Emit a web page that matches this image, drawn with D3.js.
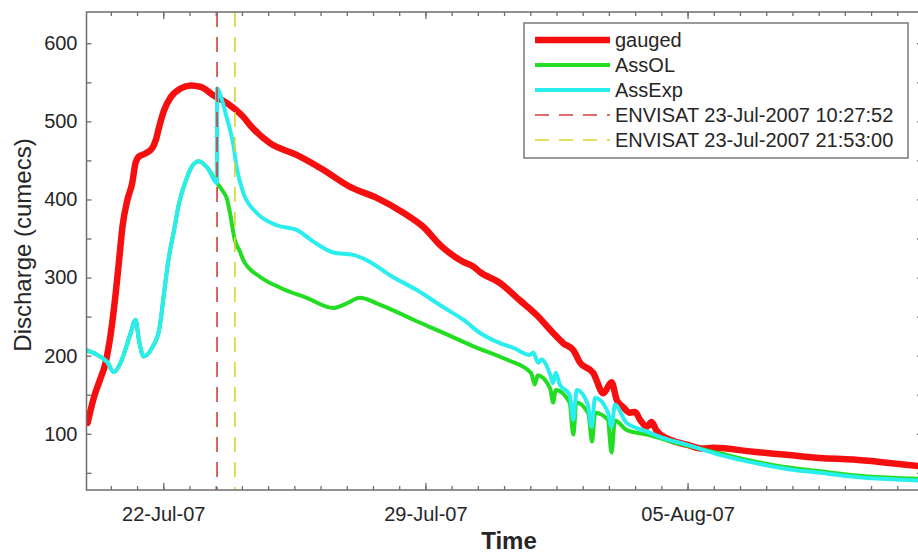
<!DOCTYPE html>
<html>
<head>
<meta charset="utf-8">
<script src="https://cdn.jsdelivr.net/npm/d3@7"></script>
<style>
body { margin: 0; background: #fff; }
text { font-family: "Liberation Sans", Arial, sans-serif; fill: #262626; }
</style>
</head>
<body>
<script>
// discharge data. days counted from 22-Jul-2007 00:00 UTC

var gaugedDays = [-2.02, -1.85, -1.69, -1.54, -1.40, -1.27, -1.18, -1.09, -0.96, -0.83, -0.74, -0.65, -0.47, -0.29, -0.20, -0.11,
  0.02, 0.20, 0.46, 0.73, 1.00, 1.35, 1.71, 2.15, 2.32, 2.85, 3.56, 4.27, 4.99, 5.70, 6.41, 6.94, 7.43, 7.66, 8.01, 8.28,
  8.46, 8.99, 9.52, 9.97, 10.41, 10.68, 10.95, 11.13, 11.48, 11.75, 11.97, 12.11, 12.28, 12.46, 12.60, 12.73, 12.91, 13.04,
  13.17, 13.50, 13.98, 14.40, 14.69, 15.75, 16.65, 17.54, 18.42, 19.32, 20.30];
var gaugedQ = [114, 147, 169, 191, 229, 280, 322, 365, 399, 421, 447, 455, 459, 466, 476, 493,
  514, 531, 542, 546, 544, 533, 523, 505, 495, 472, 457, 438, 416, 402, 383, 365, 340, 331, 320, 314,
  307, 293, 271, 252, 229, 216, 207, 191, 178, 152, 166, 143, 134, 127, 128, 118, 109, 115,
  104, 93, 86, 81, 82, 77, 73, 69, 67, 63, 58];

// open loop and assimilated runs are the same curve until the first ENVISAT pass
var assOLDays = [-2.05, -1.76, -1.50, -1.32, -1.14, -0.87, -0.74, -0.65, -0.52, -0.29, -0.11, 0.02, 0.15, 0.29, 0.42, 0.61,
  0.79, 0.95, 1.17, 1.436, 1.57, 1.71, 1.78, 1.91, 2.05, 2.14, 2.58, 3.12, 3.83, 4.54, 4.90, 5.25, 5.70, 6.23, 6.68, 7.39,
  8.28, 9.17, 9.82, 9.92, 10.00, 10.33, 10.41, 10.48, 10.85, 10.95, 11.03, 11.35, 11.45, 11.53, 11.87, 11.97, 12.06, 12.37,
  12.91, 13.80, 14.86, 15.75, 16.65, 17.54, 18.42, 19.32, 20.30];
var assOLQ = [207, 201, 192, 179, 191, 229, 246, 220, 199, 211, 233, 280, 326, 361, 395, 425,
  444, 449, 441, 421, 412, 399, 383, 348, 333, 322, 301, 287, 274, 261, 267, 274, 267, 256, 246, 231,
  212, 195, 178, 163, 175, 158, 140, 156, 140, 99, 140, 126, 90, 127, 118, 76, 117, 105,
  99, 87, 75, 65, 57, 52, 47, 44, 42];

var assExpDays = [-2.05, -1.76, -1.50, -1.32, -1.14, -0.87, -0.74, -0.65, -0.52, -0.29, -0.11, 0.02, 0.15, 0.29, 0.42, 0.61,
  0.79, 0.95, 1.17, 1.435, 1.437, 1.57, 1.71, 1.78, 1.87, 1.96, 2.14, 2.49, 3.03, 3.56, 4.01, 4.54, 5.07, 5.52, 6.05, 6.77,
  7.48, 8.01, 8.46, 8.99, 9.35, 9.79, 9.88, 10.01, 10.10, 10.33, 10.41, 10.48, 10.59, 10.85, 10.95, 11.04, 11.34, 11.44,
  11.53, 11.87, 11.97, 12.06, 12.37, 12.91, 13.26, 13.98, 14.86, 15.75, 16.65, 17.54, 18.42, 19.32, 20.30];
var assExpQ = [207, 201, 192, 179, 191, 229, 246, 220, 199, 211, 233, 280, 326, 361, 395, 425,
  444, 449, 441, 421, 542, 527, 502, 490, 470, 441, 408, 383, 367, 361, 346, 332, 329, 320, 303, 284,
  262, 246, 229, 216, 210, 201, 204, 191, 195, 176, 165, 178, 163, 150, 118, 156, 137, 109,
  146, 128, 109, 137, 114, 103, 96, 86, 73, 63, 55, 50, 45, 42, 40];

var envisatTimes = ['2007-07-23T10:27:52Z', '2007-07-23T21:53:00Z'];
var xTickLabels = ['22-Jul-07', '29-Jul-07', '05-Aug-07'];
var yTickValues = [50, 100, 150, 200, 250, 300, 350, 400, 450, 500, 550, 600];
var legendLabels = ['gauged', 'AssOL', 'AssExp', 'ENVISAT 23-Jul-2007 10:27:52', 'ENVISAT 23-Jul-2007 21:53:00'];

var t0 = Date.UTC(2007, 6, 22);
var toDate = function(d) {
  return new Date(t0 + d * 864e5);
};
var zip = function(days, q) {
  return days.map(function(d, i) { return {t: toDate(d), q: q[i]}; });
};

// plot box (right edge sits just past the picture, as in the original)
var W = 918, H = 554;
var boxL = 86.5, boxT = 12, boxR = 922, boxB = 490;
var axisColor = '#6e6e6e';

var svg = d3.select('body').append('svg').attr('width', W).attr('height', H);

var x = d3.scaleUtc().domain([toDate(-2.05), toDate(20.26)]).range([boxL, boxR]);
var y = d3.scaleLinear().domain([28, 640]).range([boxB, boxT]);

svg.append('clipPath').attr('id', 'plotclip')
  .append('rect').attr('x', boxL).attr('y', boxT).attr('width', boxR - boxL).attr('height', boxB - boxT);

//the lines, in the order they were plotted
var series = [
  {name: legendLabels[0], data: zip(gaugedDays, gaugedQ), color: '#f50f0f', width: 6.5},
  {name: legendLabels[1], data: zip(assOLDays, assOLQ), color: '#22dd22', width: 4},
  {name: legendLabels[2], data: zip(assExpDays, assExpQ), color: '#2aeeee', width: 4}
];
var passes = [
  {name: legendLabels[3], t: new Date(envisatTimes[0]), color: '#d23c3c'},
  {name: legendLabels[4], t: new Date(envisatTimes[1]), color: '#d6d629'}
];

var line = d3.line()
  .curve(d3.curveMonotoneX)
  .x(function(d) { return x(d.t); })
  .y(function(d) { return y(d.q); });

var plot = svg.append('g').attr('clip-path', 'url(#plotclip)');

plot.selectAll('path.series').data(series).enter().append('path')
  .attr('class', 'series')
  .attr('d', function(d) { return line(d.data); })
  .attr('fill', 'none')
  .attr('stroke', function(d) { return d.color; })
  .attr('stroke-width', function(d) { return d.width; })
  .attr('stroke-linejoin', 'round')
  .attr('stroke-linecap', 'round');

plot.selectAll('line.pass').data(passes).enter().append('line')
  .attr('class', 'pass')
  .attr('x1', function(d) { return x(d.t); })
  .attr('x2', function(d) { return x(d.t); })
  .attr('y1', boxT)
  .attr('y2', boxB)
  .attr('stroke', function(d) { return d.color; })
  .attr('stroke-width', 1.6)
  .attr('stroke-dasharray', '15,10');

// axes. ticks point inwards like matlab
var parseTick = d3.utcParse('%d-%b-%y');
var majorDates = xTickLabels.map(parseTick);
var minorDates = d3.range(-3, 31).map(function(k) { return toDate(k * 0.7); })
  .filter(function(d) { return d >= x.domain()[0] && d <= x.domain()[1]; });

var styleAxis = function(g) {
  g.select('.domain').remove();
  g.selectAll('line').attr('stroke', axisColor).attr('stroke-width', 1.3);
  g.attr('font-size', 20).attr('font-family', null);
  g.selectAll('text').attr('fill', '#262626');
};

svg.append('g').attr('transform', 'translate(0,' + boxB + ')')
  .call(d3.axisBottom(x).tickValues(minorDates).tickFormat('').tickSize(-4).tickSizeOuter(0)).call(styleAxis);
svg.append('g').attr('transform', 'translate(0,' + boxB + ')')
  .call(d3.axisBottom(x).tickValues(majorDates).tickFormat(d3.utcFormat('%d-%b-%y'))
    .tickSize(-7).tickSizeOuter(0).tickPadding(17)).call(styleAxis);
svg.append('g').attr('transform', 'translate(0,' + boxT + ')')
  .call(d3.axisTop(x).tickValues(minorDates).tickFormat('').tickSize(-4).tickSizeOuter(0)).call(styleAxis);
svg.append('g').attr('transform', 'translate(0,' + boxT + ')')
  .call(d3.axisTop(x).tickValues(majorDates).tickFormat('').tickSize(-7).tickSizeOuter(0)).call(styleAxis);

svg.append('g').attr('transform', 'translate(' + boxL + ',0)')
  .call(d3.axisLeft(y).tickValues(yTickValues)
    .tickFormat(function(d) { return d % 100 === 0 ? d : ''; })
    .tickSize(-5).tickSizeOuter(0).tickPadding(9)).call(styleAxis);
svg.append('g').attr('transform', 'translate(' + boxR + ',0)')
  .call(d3.axisRight(y).tickValues(yTickValues).tickFormat('').tickSize(-5).tickSizeOuter(0)).call(styleAxis);

svg.append('rect')
  .attr('x', boxL).attr('y', boxT).attr('width', boxR - boxL).attr('height', boxB - boxT)
  .attr('fill', 'none').attr('stroke', axisColor).attr('stroke-width', 1.5);

svg.append('text').attr('x', 509).attr('y', 549)
  .attr('text-anchor', 'middle').attr('font-size', 24).attr('font-weight', 'bold')
  .text('Time');

svg.append('text').attr('transform', 'translate(31,' + ((boxT + boxB) / 2 - 6) + ') rotate(-90)')
  .attr('text-anchor', 'middle').attr('font-size', 24)
  .text('Discharge (cumecs)');

// legend box
var legend = svg.append('g').attr('transform', 'translate(524,23)');
legend.append('rect').attr('width', 384).attr('height', 135)
  .attr('fill', '#fff').attr('stroke', '#7a7a7a').attr('stroke-width', 1.5);

var legendItems = series.concat(passes);
var row = legend.selectAll('g.item').data(legendItems).enter().append('g')
  .attr('class', 'item')
  .attr('transform', function(d, i) { return 'translate(0,' + (17 + i * 25) + ')'; });

row.append('line')
  .attr('x1', 11).attr('x2', 86)
  .attr('stroke', function(d) { return d.color; })
  .attr('stroke-width', function(d) { return d.width || 1.6; })
  .attr('stroke-dasharray', function(d) { return d.width ? null : '14,10'; });

row.append('text')
  .attr('x', 91).attr('dy', '0.35em').attr('font-size', 20)
  .text(function(d) { return d.name; });
</script>
</body>
</html>
